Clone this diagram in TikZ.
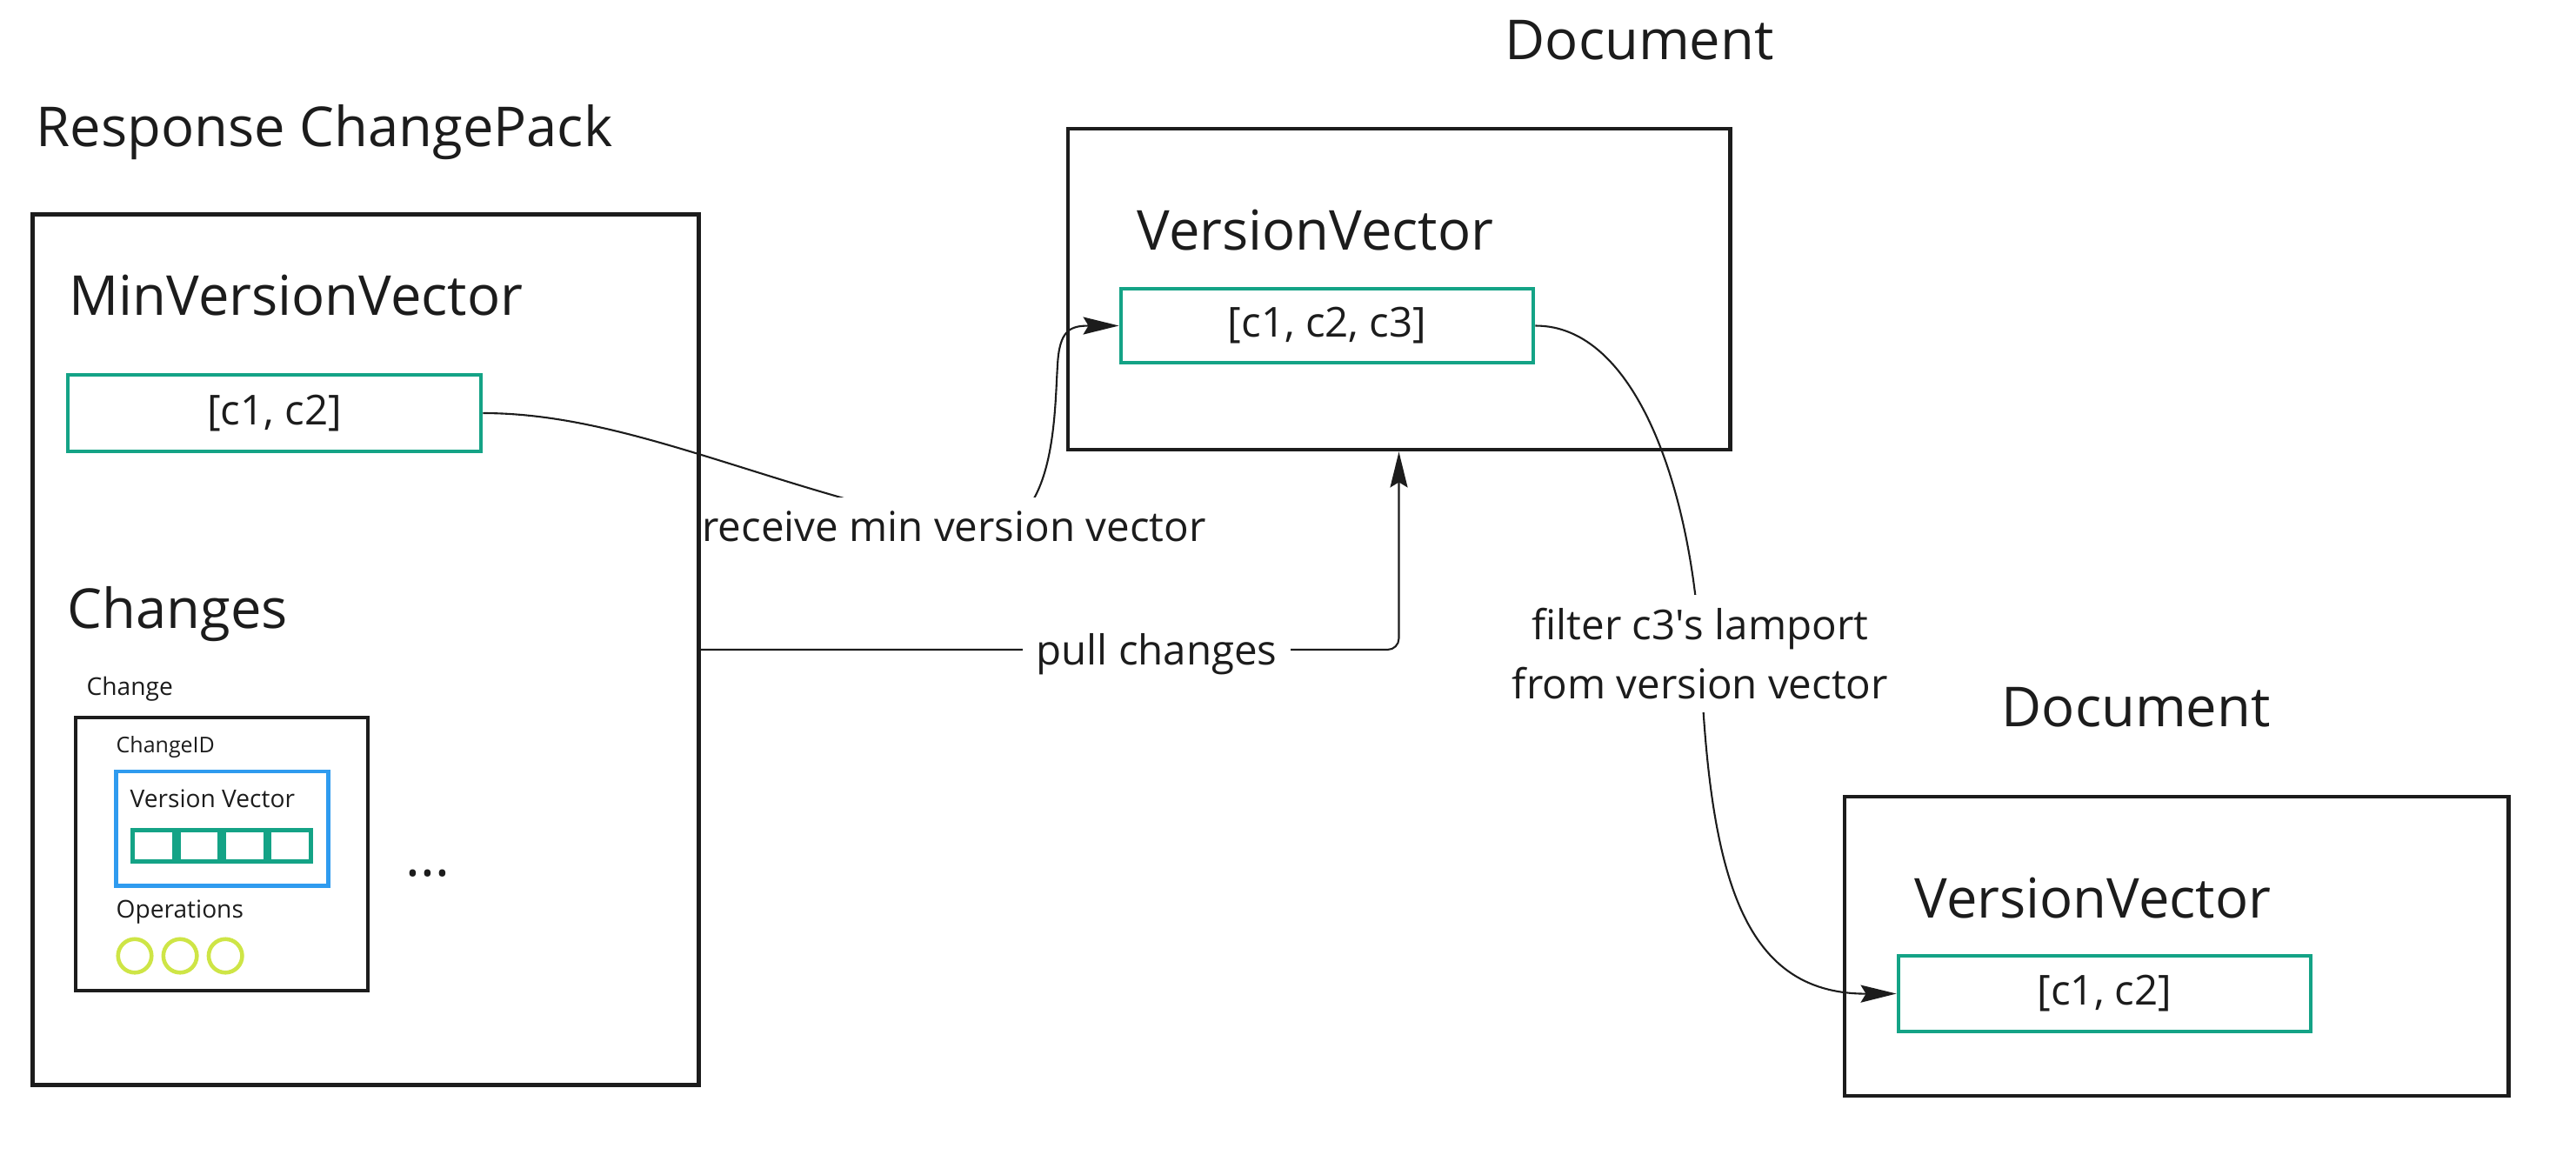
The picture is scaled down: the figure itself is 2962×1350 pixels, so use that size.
\documentclass[tikz,border=0pt]{standalone}
\usepackage{fontspec}
\setmainfont{Open Sans}
\usepackage{tikz}
\usetikzlibrary{arrows.meta,positioning}
\definecolor{ink}{HTML}{1C1C1C}
\definecolor{vecteal}{HTML}{14A386}
\definecolor{vvblue}{HTML}{2F9BEF}
\definecolor{oplime}{HTML}{CEE546}

\begin{document}
\begin{tikzpicture}[x=0.01cm, y=-0.01cm, >={Stealth[length=4.1mm, width=2mm, inset=0.6mm]},
  frame/.style={draw=ink, line width=1.3pt, inner sep=0pt},
  vec/.style={draw=vecteal, line width=1.3pt, inner sep=0pt, text=ink,
    font=\fontsize{13.5}{16}\selectfont},
  head/.style={anchor=base west, inner sep=0pt, text=ink, font=\fontsize{18}{22}\selectfont},
  small/.style={anchor=base west, inner sep=0pt, text=ink, font=\fontsize{8}{10}\selectfont},
  cell/.style={draw=vecteal, line width=1.4pt, minimum width=4.75mm, minimum height=3.6mm,
    inner sep=0pt},
  op/.style={circle, draw=oplime, line width=1.3pt, minimum size=3.85mm, inner sep=0pt},
  flow/.style={->, draw=ink, line width=0.6pt},
  lbl/.style={fill=white, inner xsep=0.5mm, inner ysep=1.5mm, text=ink, align=center,
    font=\fontsize{13.5}{19.3}\selectfont}]
  \useasboundingbox (0,0) rectangle (2962,1350);

  \node[head] (packT) at (41,168) {Response ChangePack};
  \node[frame, minimum width=7.65cm, minimum height=10cm] (pack) at (420.5,747) {};
  \node[head] (minT) at (79,362) {MinVersionVector};
  \node[vec, minimum width=4.75cm, minimum height=8.8mm] (minvec) at (315.5,475) {[c1, c2]};
  \node[head] (chgT) at (77,722) {Changes};
  \node[small] (oneT) at (99,799) {Change};
  \node[frame, minimum width=3.36cm, minimum height=3.14cm] (one) at (255,982) {};
  \node[small, font=\fontsize{7.1}{9}\selectfont] (idT) at (133,865) {ChangeID};
  \node[draw=vvblue, line width=1.4pt, minimum width=2.43cm, minimum height=1.31cm,
    inner sep=0pt] (vv) at (255.5,952.5) {};
  \node[small] (vvT) at (149,928) {Version Vector};
  \node[cell] (cell1) at (176.4,972.5) {};
  \node[cell, right=0pt of cell1] (cell2) {};
  \node[cell, right=0pt of cell2] (cell3) {};
  \node[cell, right=0pt of cell3] (cell4) {};
  \node[small] (opsT) at (133,1055) {Operations};
  \node[op] (op1) at (155,1099) {};
  \node[op, right=0.9mm of op1] (op2) {};
  \node[op, right=0.9mm of op2] (op3) {};
  \node[head] (more) at (466,1007) {...};

  \node[head] (docT) at (1730,68) {Document};
  \node[frame, minimum width=7.61cm, minimum height=3.69cm] (doc) at (1608.5,332.5) {};
  \node[head] (docVT) at (1307,287) {VersionVector};
  \node[vec, minimum width=4.74cm, minimum height=8.5mm] (docvec) at (1526,374.5) {[c1, c2, c3]};

  \node[head] (newT) at (2301,835) {Document};
  \node[frame, minimum width=7.63cm, minimum height=3.44cm] (new) at (2502.5,1088) {};
  \node[head] (newVT) at (2201,1055) {VersionVector};
  \node[vec, minimum width=4.74cm, minimum height=8.7mm] (newvec) at (2420,1142.5) {[c1, c2]};

  \draw[flow] (minvec.east) .. controls (720,475) and (880,560) .. (1100,605)
    .. controls (1215,640) and (1212,480) .. (1216,420)
    .. controls (1218,380) and (1230,374.5) .. (docvec.west);
  \draw[flow, rounded corners=1.3mm] (pack.east) -| (doc.south);
  \draw[flow] (docvec.east) .. controls (1880,374) and (1945,560) .. (1955,750)
    .. controls (1965,1000) and (2000,1143) .. (newvec.west);

  \node[lbl, anchor=base, inner xsep=0pt] (recv) at (1097,622) {receive min version vector};
  \node[lbl, anchor=base, inner xsep=1.5mm] (pull) at (1330,764) {pull changes};
  \node[lbl] (filt) at (1955,751.5) {filter c3\textquotesingle s lamport\\from version vector};
\end{tikzpicture}
\end{document}
